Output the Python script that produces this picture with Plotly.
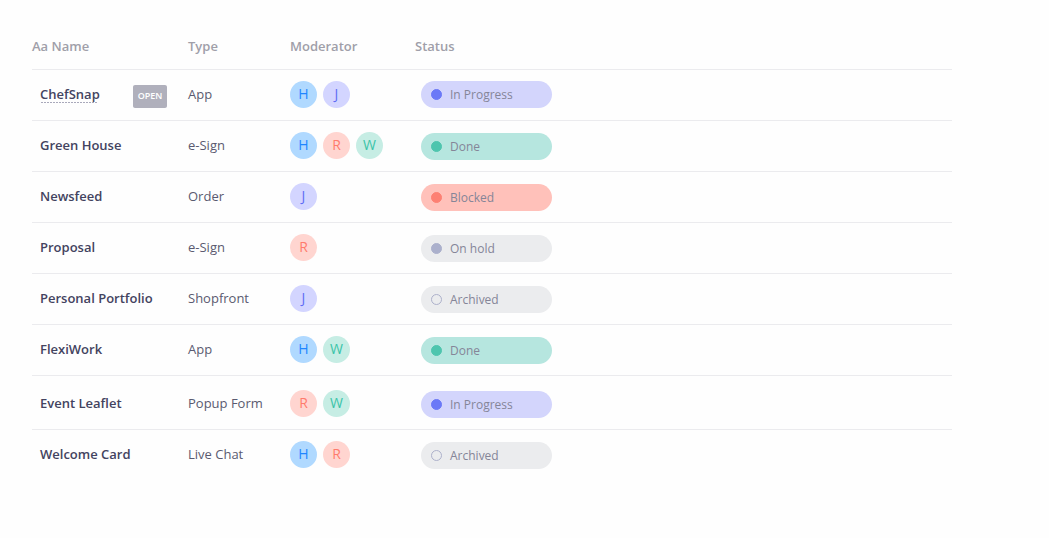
import plotly.graph_objects as go

# table content
names = ['ChefSnap', 'Green House', 'Newsfeed', 'Proposal', 'Personal Portfolio', 'FlexiWork', 'Event Leaflet', 'Welcome Card']
types = ['App', 'e-Sign', 'Order', 'e-Sign', 'Shopfront', 'App', 'Popup Form', 'Live Chat']
moderators = [['H', 'J'], ['H', 'R', 'W'], ['J'], ['R'], ['J'], ['H', 'W'], ['R', 'W'], ['H', 'R']]
statuses = ['In Progress', 'Done', 'Blocked', 'On hold', 'Archived', 'Done', 'In Progress', 'Archived']
headers = ['Aa Name', 'Type', 'Moderator', 'Status']

# page layout, in pixels
W, H = 1049, 538
row_y = [94.5, 145.5, 196.5, 247.5, 298.5, 349.5, 403.5, 454.5]
pill_y = [94.5, 146.5, 197.5, 248.5, 299.5, 350.5, 404.5, 455.5]
rule_y = [69.5, 120.5, 171.5, 222.5, 273.5, 324.5, 375.5, 429.5]
header_x = [32, 188, 290, 415]
avatar_x = [303.5, 336.5, 369.5]
text_dy = 1  # text sits a little below the centre line

# colours
avatar_fill = {'H': '#b0d9ff', 'J': '#d3d5ff', 'R': '#ffd5d0', 'W': '#c6ede4'}
avatar_text = {'H': '#1f86ff', 'J': '#5f6cf5', 'R': '#ff7b6c', 'W': '#3cc4a9'}
pill_fill = {'In Progress': '#d3d5fc', 'Done': '#b6e6df', 'Blocked': '#ffc1ba', 'On hold': '#ebecee', 'Archived': '#ebecee'}
dot_fill = {'In Progress': '#6a78f7', 'Done': '#4ec5ae', 'Blocked': '#fd8073', 'On hold': '#abb0cc', 'Archived': '#ebecee'}
dot_line = {'In Progress': '#6a78f7', 'Done': '#4ec5ae', 'Blocked': '#fd8073', 'On hold': '#abb0cc', 'Archived': '#adb1cb'}


def round_rect(x0, y0, x1, y1, r):
    # plotly shape paths have no arcs, so the corners are cubic curves
    k = r * 0.45
    return (f'M {x0+r} {y0} L {x1-r} {y0} C {x1-k} {y0} {x1} {y0+k} {x1} {y0+r} '
            f'L {x1} {y1-r} C {x1} {y1-k} {x1-k} {y1} {x1-r} {y1} '
            f'L {x0+r} {y1} C {x0+k} {y1} {x0} {y1-k} {x0} {y1-r} '
            f'L {x0} {y0+r} C {x0} {y0+k} {x0+k} {y0} {x0+r} {y0} Z')


def add_text(fig, x, y, labels, size, color, weight=400, position='middle right'):
    fig.add_trace(go.Scatter(x=x, y=[v + text_dy for v in y], text=labels, mode='text', textposition=position,
                             textfont=dict(family='Open Sans', size=size, color=color, weight=weight)))


fig = go.Figure()

# rules under the header and between the rows
for y in rule_y:
    fig.add_shape(type='line', x0=32, x1=952, y0=y, y1=y, line=dict(color='#ebebee', width=1), layer='below')

# ChefSnap gets an underline and an OPEN badge
fig.add_shape(type='line', x0=41, x1=98, y0=102.5, y1=102.5, line=dict(color='#a9a9bb', width=1, dash='2px,1px'))
fig.add_shape(type='path', path=round_rect(133, 85, 167, 108, 2), fillcolor='#b0b0bc', line_width=0, layer='below')

# status pills
for s, y in zip(statuses, pill_y):
    fig.add_shape(type='path', path=round_rect(421, y - 13.5, 552, y + 13.5, 13.5), fillcolor=pill_fill[s], line_width=0, layer='below')

# status dots
fig.add_trace(go.Scatter(x=[436.5] * len(statuses), y=pill_y, mode='markers',
                         marker=dict(size=10, color=[dot_fill[s] for s in statuses],
                                     line=dict(width=1, color=[dot_line[s] for s in statuses]))))

# moderator avatars
av_x, av_y, av_l = [], [], []
for mods, y in zip(moderators, row_y):
    for i, m in enumerate(mods):
        av_x.append(avatar_x[i])
        av_y.append(y)
        av_l.append(m)
fig.add_trace(go.Scatter(x=av_x, y=av_y, mode='markers',
                         marker=dict(size=27, color=[avatar_fill[m] for m in av_l], line_width=0)))
fig.add_trace(go.Scatter(x=av_x, y=[v + text_dy for v in av_y], mode='text', text=av_l, textposition='middle center',
                         textfont=dict(family='Open Sans', size=14, color=[avatar_text[m] for m in av_l])))

# texts
add_text(fig, header_x, [46.5] * 4, headers, 13, '#a09fa9', 600)
add_text(fig, [40] * len(names), row_y, names, 13, '#434360', 600)
add_text(fig, [188] * len(types), row_y, types, 13, '#5a5a70')
add_text(fig, [450] * len(statuses), pill_y, statuses, 12, '#858598')
add_text(fig, [150], [96], ['OPEN'], 9, '#ffffff', 600, 'middle center')

fig.update_layout(width=W, height=H, margin=dict(l=0, r=0, t=0, b=0), showlegend=False,
                  paper_bgcolor='#fefefe', plot_bgcolor='#fefefe')
fig.update_xaxes(range=[0, W], visible=False)
fig.update_yaxes(range=[H, 0], visible=False)

fig.write_html("out.html", config=dict(displayModeBar=False), post_script="document.body.style.margin='0';")
